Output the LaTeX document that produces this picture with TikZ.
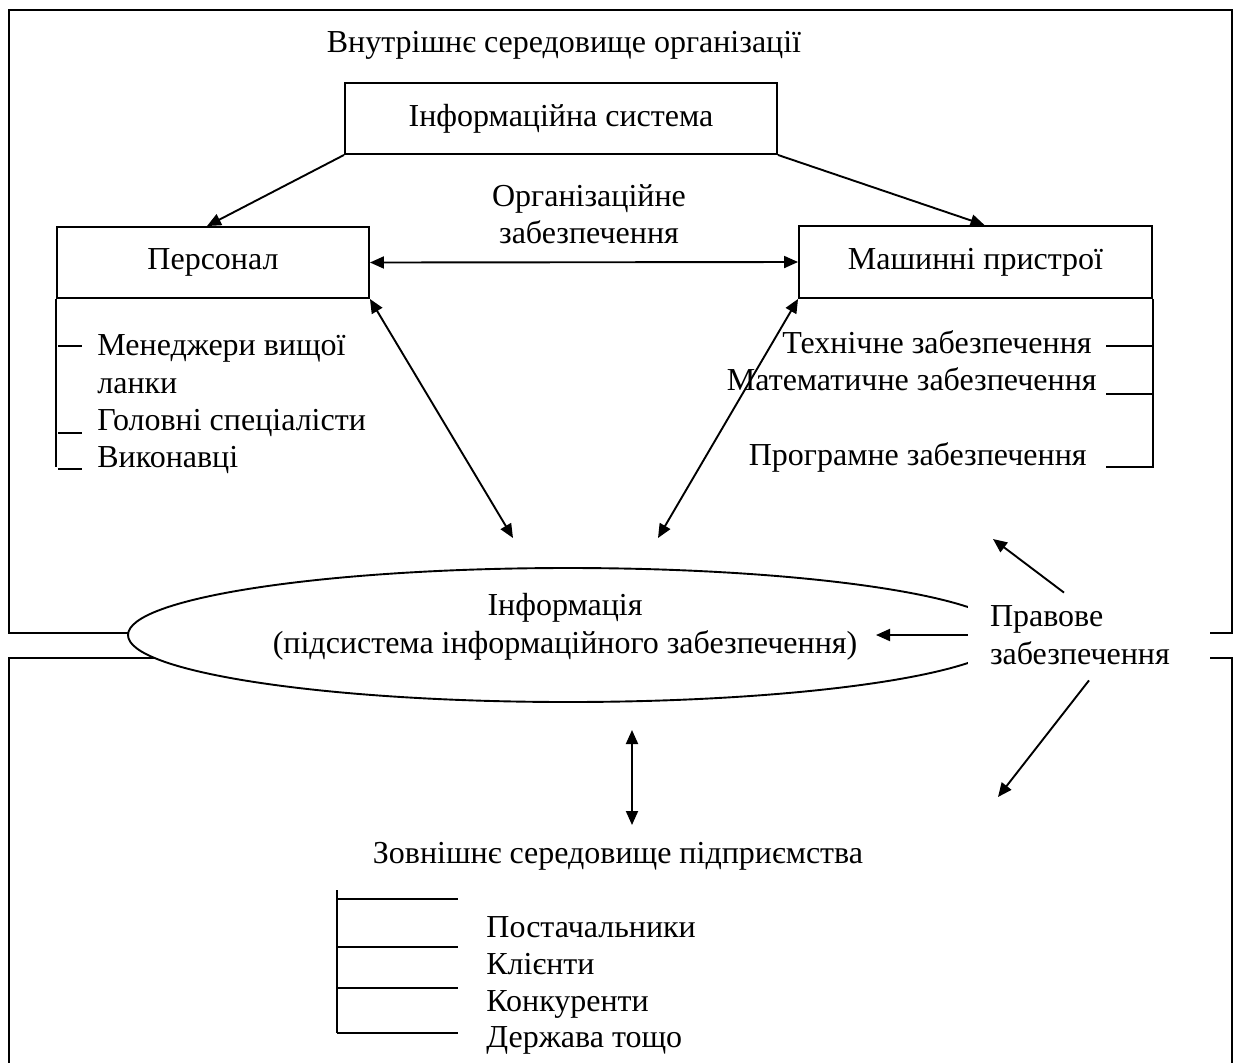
\documentclass[tikz,border=0pt]{standalone}
\usepackage{fontspec}
\setmainfont{Liberation Serif}
\usetikzlibrary{calc,arrows.meta,positioning,shapes.geometric}
\tikzset{
  line/.style={line width=0.95pt},
  arr/.style={line,-{Triangle[length=7pt,width=6pt]}},
  darr/.style={line,{Triangle[length=7pt,width=6pt]}-{Triangle[length=7pt,width=6pt]}},
  box/.style={draw,line width=0.95pt,inner sep=0pt},
  txt/.style={inner sep=0pt},
}

\begin{document}
\begin{tikzpicture}[x=0.5pt,y=-0.5pt,font=\fontsize{16}{18.75}\selectfont]
\useasboundingbox (0,0) rectangle (1233,1062);

% frames of the two environments
\draw[line] (200,633) -- (9,633) -- (9,10) -- (1232,10) -- (1232,633) -- (1100,633);
\draw[line] (200,658) -- (9,658) -- (9,1075);
\draw[line] (1100,658) -- (1232,658) -- (1232,1075);

\node[txt,anchor=base] (inner) at (564,52) {Внутрішнє середовище організації};

% system and its parts
\node[box,minimum width=216pt,minimum height=35.5pt] (infsys) at (561,118.5) {Інформаційна система};
\node[box,minimum width=156pt,minimum height=35.5pt] (pers) at (213,262.5) {Персонал};
\node[box,minimum width=176.5pt,minimum height=36pt] (mach) at (975.5,262) {Машинні пристрої};
\node[txt,align=center] (org) at (589,214) {Організаційне\\забезпечення};

% staff list
\draw[line] (pers.south west) -- ++(0,168);
\draw[line] (58,346) -- (82,346);
\draw[line] (58,433) -- (82,433);
\draw[line] (58,469) -- (82,469);
\node[txt,anchor=base west] (mgr) at (97,355) {Менеджери вищої};
\node[txt,anchor=base west] (mgrb) at (97,393) {ланки};
\node[txt,anchor=base west] (chief) at (97,430) {Головні спеціалісти};
\node[txt,anchor=base west] (exec) at (97,467) {Виконавці};

% support list
\draw[line] (mach.south east) -- ++(0,169);
\draw[line] (1106,346) -- (1152,346);
\draw[line] (1106,394) -- (1152,394);
\draw[line] (1106,467) -- (1152,467);
\node[txt,anchor=base east] (tech) at (1092,353) {Технічне забезпечення};
\node[txt,anchor=base east] (math) at (1097,390) {Математичне забезпечення};
\node[txt,anchor=base east] (prog) at (1087,465) {Програмне забезпечення};

% information
\node[ellipse,draw,line width=0.95pt,fill=white,minimum width=440pt,minimum height=67pt,inner sep=0pt] (info) at (568,635) {};
\node[txt,align=center] (infotxt) at (565,627) {Інформація\\(підсистема інформаційного забезпечення)};

\node[fill=white,minimum width=121pt,minimum height=45pt,text width=99pt,inner xsep=11pt,inner ysep=0pt,align=left] (law) at (1089,635) {Правове\\забезпечення};

% outer environment
\node[txt,anchor=base] (outer) at (618,863) {Зовнішнє середовище підприємства};
\draw[line] (337,890) -- (337,1033);
\draw[line] (337,899) -- (458,899);
\draw[line] (337,947) -- (458,947);
\draw[line] (337,988) -- (458,988);
\draw[line] (337,1033) -- (458,1033);
\node[txt,anchor=base west] (supp) at (486,937) {Постачальники};
\node[txt,anchor=base west] (cli) at (486,974) {Клієнти};
\node[txt,anchor=base west] (comp) at (486,1011) {Конкуренти};
\node[txt,anchor=base west] (state) at (486,1047) {Держава тощо};

% connectors
\coordinate (infoL) at (513,538);
\coordinate (infoR) at (658,538);
\coordinate (infoE) at (876,635);
\coordinate (upEnd) at (632,730);
\coordinate (dnEnd) at (632,825);
\coordinate (lawUp) at (993,539);
\coordinate (lawDn) at (998,797);
\draw[arr] (infsys.south west) -- ($(pers.north)+(-6,0)$);
\draw[arr] (infsys.south east) -- ($(mach.north)+(9,0)$);
\draw[darr] (pers.east) -- (mach.west);
\draw[darr] (pers.south east) -- (infoL);
\draw[darr] (mach.south west) -- (infoR);
\draw[darr] (upEnd) -- (dnEnd);
\draw[arr] (law.west) -- (infoE);
\draw[arr] ($(law.north)+(-25,3)$) -- (lawUp);
\draw[arr] (law.south) -- (lawDn);
\end{tikzpicture}
\end{document}
